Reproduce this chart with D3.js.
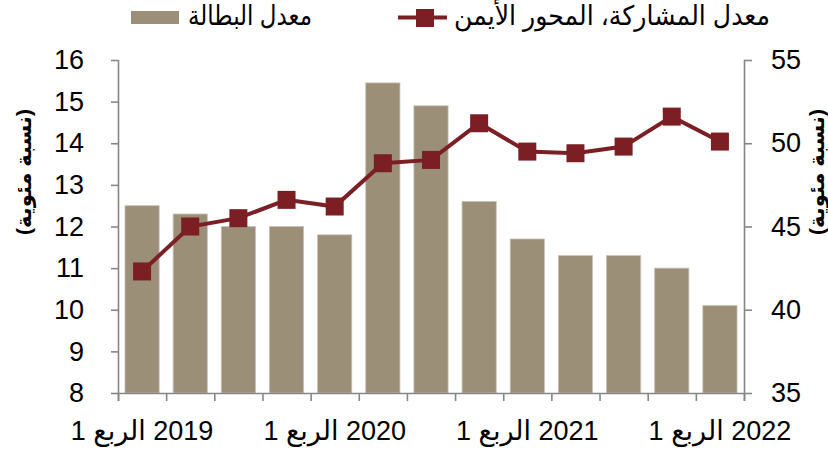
<!DOCTYPE html>
<html>
<head>
<meta charset="utf-8">
<script src="https://cdn.jsdelivr.net/npm/d3@7"></script>
<style>
  body { margin: 0; background: #fff; }
  text { font-family: "Liberation Sans", Arial, "DejaVu Sans", sans-serif; fill: #000; }
</style>
</head>
<body>
<svg id="chart" width="828" height="450"></svg>
<script>
// données : trimestres 2019T1 -> 2022T1
var quarters = ['2019Q1','2019Q2','2019Q3','2019Q4','2020Q1','2020Q2','2020Q3','2020Q4',
                '2021Q1','2021Q2','2021Q3','2021Q4','2022Q1'];
var chomage = [12.5, 12.3, 12.0, 12.0, 11.8, 15.45, 14.9, 12.6, 11.7, 11.3, 11.3, 11.0, 10.1];
var participation = [42.3, 45.0, 45.5, 46.6, 46.2, 48.8, 49.0, 51.2, 49.5, 49.4, 49.8, 51.6, 50.1];
var xLabels = {'2019Q1':'2019 الربع 1','2020Q1':'2020 الربع 1','2021Q1':'2021 الربع 1','2022Q1':'2022 الربع 1'};
var leftTicks = [8, 9, 10, 11, 12, 13, 14, 15, 16];
var rightTicks = [35, 40, 45, 50, 55];
var legendBar = 'معدل البطالة';
var legendLine = 'معدل المشاركة، المحور الأيمن';
var axisTitle = '(نسبة مئوية)';

var barColor = '#9c8f78', lineColor = '#7c1f25', axisColor = '#868686';
var m = {left: 118, right: 744, top: 60, bottom: 393};

var svg = d3.select('#chart');

var x = d3.scaleBand().domain(quarters).range([m.left, m.right]).paddingInner(0.29).paddingOuter(0.145);
var xb = d3.scaleLinear().domain([0, quarters.length]).range([m.left, m.right]); // limites des catégories
var yL = d3.scaleLinear().domain([8, 16]).range([m.bottom, m.top]);
var yR = d3.scaleLinear().domain([35, 55]).range([m.bottom, m.top]);

// barres
svg.append('g').selectAll('rect')
  .data(chomage)
  .enter().append('rect')
  .attr('x', (d, i) => x(quarters[i]))
  .attr('y', d => yL(d))
  .attr('width', x.bandwidth())
  .attr('height', d => yL(8) - yL(d))
  .attr('fill', barColor)
  .attr('stroke', '#c9c1b3')
  .attr('stroke-width', 0.8);

// axes
var axL = svg.append('g').attr('transform', 'translate(' + m.left + ',0)')
  .call(d3.axisLeft(yL).tickValues(leftTicks).tickSize(7).tickPadding(27).tickFormat(d3.format('d')));
var axR = svg.append('g').attr('transform', 'translate(' + m.right + ',0)')
  .call(d3.axisRight(yR).tickValues(rightTicks).tickSize(8).tickPadding(19).tickFormat(d3.format('d')));
var axX = svg.append('g').attr('transform', 'translate(0,' + m.bottom + ')')
  .call(d3.axisBottom(xb).tickValues(d3.range(quarters.length + 1)).tickSize(8).tickFormat(''));

[axL, axR, axX].forEach(a => {
  a.select('.domain').attr('stroke', axisColor).attr('stroke-width', 1.6);
  a.selectAll('.tick line').attr('stroke', axisColor).attr('stroke-width', 1.6);
  a.selectAll('.tick text').style('font-size', '27px').attr('fill', '#000');
});
axL.select('.domain').attr('d', 'M0.5,' + m.top + 'V' + (m.bottom + 8));
axR.select('.domain').attr('d', 'M0.5,' + m.top + 'V' + (m.bottom + 8));
axX.select('.domain').attr('d', 'M' + m.left + ',0.5H' + m.right);

// étiquettes de l'axe x (une par an)
svg.append('g').selectAll('text')
  .data(quarters.filter(q => xLabels[q]))
  .enter().append('text')
  .attr('x', q => x(q) + x.bandwidth() / 2)
  .attr('y', 440)
  .attr('direction', 'rtl')
  .attr('text-anchor', 'middle')
  .style('font-size', '27px')
  .text(q => xLabels[q]);

// ligne du taux de participation
var line = d3.line()
  .x((d, i) => x(quarters[i]) + x.bandwidth() / 2)
  .y(d => yR(d));
svg.append('path')
  .datum(participation)
  .attr('d', line)
  .attr('fill', 'none')
  .attr('stroke', lineColor)
  .attr('stroke-width', 4);
svg.append('g').selectAll('rect')
  .data(participation)
  .enter().append('rect')
  .attr('x', (d, i) => x(quarters[i]) + x.bandwidth() / 2 - 9)
  .attr('y', d => yR(d) - 9)
  .attr('width', 18).attr('height', 18)
  .attr('fill', lineColor);

// titres des axes
svg.append('text')
  .attr('transform', 'translate(31,172) rotate(-90)')
  .attr('text-anchor', 'middle').attr('direction', 'rtl')
  .style('font-size', '21px').style('font-weight', 'bold')
  .text(axisTitle);
svg.append('text')
  .attr('transform', 'translate(824,172) rotate(-90)')
  .attr('text-anchor', 'middle').attr('direction', 'rtl')
  .style('font-size', '21px').style('font-weight', 'bold')
  .text(axisTitle);

// légende
var leg = svg.append('g');
leg.append('rect').attr('x', 131).attr('y', 11).attr('width', 48).attr('height', 13).attr('fill', barColor);
leg.append('text').attr('x', 312).attr('y', 25).attr('direction', 'rtl').attr('text-anchor', 'start')
  .attr('textLength', 124).attr('lengthAdjust', 'spacingAndGlyphs')
  .style('font-size', '27px').text(legendBar);
leg.append('line').attr('x1', 398).attr('x2', 447).attr('y1', 17.5).attr('y2', 17.5)
  .attr('stroke', lineColor).attr('stroke-width', 4);
leg.append('rect').attr('x', 416).attr('y', 9).attr('width', 18).attr('height', 18).attr('fill', lineColor);
leg.append('text').attr('x', 770).attr('y', 25).attr('direction', 'rtl').attr('text-anchor', 'start')
  .attr('textLength', 316).attr('lengthAdjust', 'spacingAndGlyphs')
  .style('font-size', '27px').text(legendLine);
</script>
</body>
</html>
